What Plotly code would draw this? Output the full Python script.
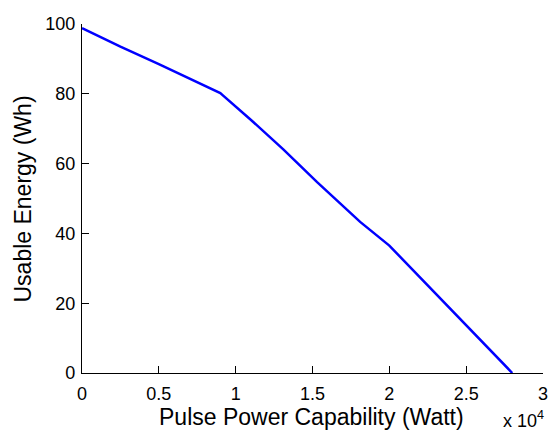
import plotly.graph_objects as go

power_w = [0, 2500, 5000, 8000, 9000, 9150, 11000, 13100, 15300, 18100, 20000, 28000]
energy_wh = [98.8, 93.5, 88.5, 82.4, 80.2, 79.6, 72.5, 64.1, 54.7, 43.3, 36.5, 0]

x_tickvals = [0, 5000, 10000, 15000, 20000, 25000, 30000]
x_ticktext = ["0", "0.5", "1", "1.5", "2", "2.5", "3"]
y_tickvals = [0, 20, 40, 60, 80, 100]

x_title = "Pulse Power Capability (Watt)"
y_title = "Usable Energy (Wh)"
x_exponent = "x 10<sup>4</sup>"

font_family = "Liberation Sans, Arial, Helvetica, sans-serif"

fig = go.Figure()
fig.add_trace(go.Scatter(x=power_w, y=energy_wh, mode="lines",
                         line=dict(color="#0000FF", width=2.5), showlegend=False))

axis_style = dict(showgrid=False, zeroline=False, showline=True, linecolor="black", linewidth=1.3,
                  ticks="inside", ticklen=7, tickcolor="black", tickwidth=1.3, automargin=False)

fig.update_layout(
    width=553, height=434,
    margin=dict(l=82, r=10, t=24, b=61, autoexpand=False),
    paper_bgcolor="white", plot_bgcolor="white",
    font=dict(family=font_family, size=18, color="black"),
    xaxis=dict(range=[0, 30000], tickvals=x_tickvals, ticktext=x_ticktext,
               ticklabelstandoff=4, **axis_style),
    yaxis=dict(range=[0, 100], tickvals=y_tickvals, ticklabelstandoff=2, **axis_style),
)
fig.add_annotation(text=x_title, xref="paper", yref="paper", x=0.497, y=-0.126,
                   xanchor="center", yanchor="middle", showarrow=False, font=dict(size=23))
fig.add_annotation(text=y_title, xref="paper", yref="paper", x=-0.128, y=0.5,
                   xanchor="center", yanchor="middle", textangle=-90, showarrow=False,
                   font=dict(size=23))
fig.add_annotation(text=x_exponent, xref="paper", yref="paper", x=1.005, y=-0.169,
                   xanchor="right", yanchor="bottom", showarrow=False, font=dict(size=18),
                   borderpad=0)

fig.write_html("out.html", config={"displayModeBar": False},
               post_script="document.body.style.margin='0px';document.body.style.overflow='hidden';")
